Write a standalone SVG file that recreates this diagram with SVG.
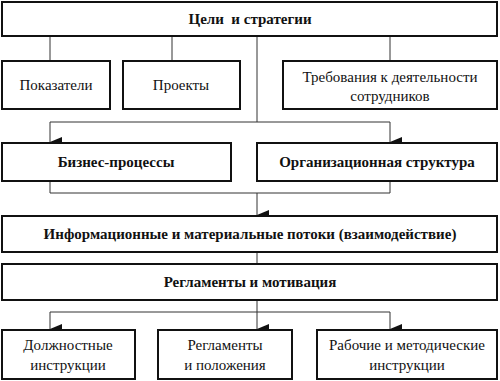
<svg xmlns="http://www.w3.org/2000/svg" width="500" height="381" viewBox="0 0 500 381">
<style>
.box{fill:#fff;stroke:#111;stroke-width:2}
.t{font-family:"Liberation Serif",serif;font-size:15px;fill:#111;text-anchor:middle}
.b{font-weight:bold}
.c{fill:none;stroke:#333;stroke-width:1}
</style>
<defs>
<marker id="ar" viewBox="0 0 10 12" refX="5" refY="12" markerWidth="10" markerHeight="12" markerUnits="userSpaceOnUse" orient="auto-start-reverse">
<path d="M0,0 L10,0 L5,12 Z" fill="#111"/>
</marker>
</defs>
<rect width="500" height="381" fill="#fff"/>
<g id="connectors">
<path class="c" d="M50,36V61M172,36V61M390,36V61"/>
<path class="c" d="M257,36V122"/>
<path class="c" d="M50,122H390"/>
<path class="c" d="M50,122V142" marker-end="url(#ar)"/>
<path class="c" d="M390,122V142" marker-end="url(#ar)"/>
<path class="c" d="M50,181V193H390V181"/>
<path class="c" d="M257,193V215" marker-end="url(#ar)"/>
<path class="c" d="M257,252V264"/>
<path class="c" d="M257,300V312"/>
<path class="c" d="M50,312H390"/>
<path class="c" d="M50,312V329" marker-end="url(#ar)"/>
<path class="c" d="M257,312V329" marker-end="url(#ar)"/>
<path class="c" d="M390,312V329" marker-end="url(#ar)"/>
</g>
<g id="goals"><rect class="box" x="2" y="2" width="495" height="34"/><text class="t b" x="250" y="24" xml:space="preserve">Цели  и стратегии</text></g>
<g id="indicators"><rect class="box" x="2" y="61" width="108" height="48"/><text class="t" x="56" y="90">Показатели</text></g>
<g id="projects"><rect class="box" x="123" y="61" width="117" height="48"/><text class="t" x="181" y="90">Проекты</text></g>
<g id="requirements"><rect class="box" x="283" y="61" width="214" height="48"/><text class="t" x="390" y="82">Требования к деятельности</text><text class="t" x="390" y="101">сотрудников</text></g>
<g id="business"><rect class="box" x="2" y="143" width="229" height="38"/><text class="t b" x="116" y="167">Бизнес-процессы</text></g>
<g id="orgstructure"><rect class="box" x="257" y="143" width="240" height="38"/><text class="t b" x="377" y="167">Организационная структура</text></g>
<g id="flows"><rect class="box" x="2" y="216" width="495" height="36"/><text class="t b" x="250" y="239">Информационные и материальные потоки (взаимодействие)</text></g>
<g id="regulations"><rect class="box" x="2" y="264" width="495" height="36"/><text class="t b" x="250" y="287">Регламенты и мотивация</text></g>
<g id="job"><rect class="box" x="2" y="330" width="133" height="49"/><text class="t" x="68" y="350">Должностные</text><text class="t" x="68" y="370">инструкции</text></g>
<g id="rules"><rect class="box" x="158" y="330" width="134" height="49"/><text class="t" x="225" y="350">Регламенты</text><text class="t" x="225" y="370">и положения</text></g>
<g id="work"><rect class="box" x="317" y="330" width="180" height="49"/><text class="t" x="407" y="350">Рабочие и методические</text><text class="t" x="407" y="370">инструкции</text></g>
</svg>
